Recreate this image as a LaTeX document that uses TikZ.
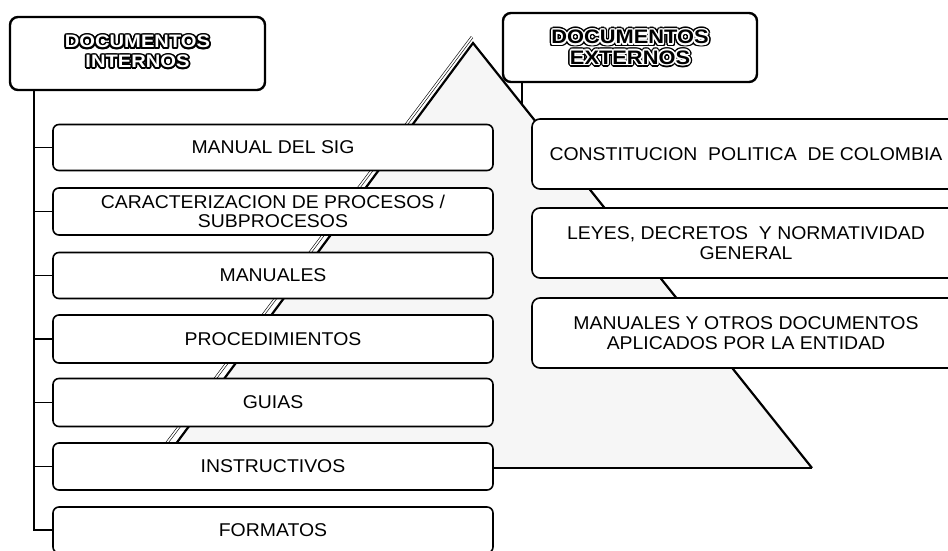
\documentclass[tikz,border=0pt]{standalone}
\usepackage{fontspec}
\setmainfont{Liberation Sans}[FakeStretch=1.05]
\newfontfamily\hdrfont{Liberation Sans}[FakeStretch=1.12]
\usetikzlibrary{calc}
\newcommand\ringtext[3]{%
  \foreach \ang in {0,22.5,...,337.5}{%
    \pgfmathsetlengthmacro\rdx{#2*cos(\ang)}%
    \pgfmathsetlengthmacro\rdy{#2*sin(\ang)}%
    \rlap{\hspace*{\rdx}\raisebox{\rdy}{\textcolor{#1}{#3}}}}}
\newcommand\hdrin[1]{\ringtext{black}{1.7pt}{#1}\textcolor{white}{#1}}
\newcommand\hdrex[1]{\ringtext{black}{3pt}{#1}\ringtext{white}{1.5pt}{#1}#1}
\tikzset{
  leftbox/.style={draw, line width=1.6pt, rounded corners=6pt, fill=white,
    minimum width=440pt, minimum height=46pt, align=center, inner sep=2pt,
    font=\fontsize{18.5}{19.5}\selectfont},
  rightbox/.style={draw, line width=1.6pt, rounded corners=8pt, fill=white,
    minimum width=428pt, minimum height=70pt, align=center, inner sep=2pt,
    font=\fontsize{18.5}{20}\selectfont},
  hdrbox/.style={draw, line width=2.4pt, rounded corners=8pt, fill=white,
    align=center, inner sep=2pt},
  conn/.style={line width=1.4pt},
}
\begin{document}
\begin{tikzpicture}[x=1pt,y=-1pt]
\useasboundingbox (0,0) rectangle (948,550);
% header and first right box positions (needed for connectors drawn beneath)
\path (137.5,53.5) node[hdrbox, minimum width=255pt, minimum height=73pt, draw=none, fill=none] (hi) {};
\path (630,47.5) node[hdrbox, minimum width=254pt, minimum height=69pt, draw=none, fill=none] (he) {};
\path (746,154) node[rightbox, draw=none, fill=none] (r1) {};
% connectors
\coordinate (t0) at ($(hi.south west)+(25pt,0)$);
\coordinate (e0) at ($(he.south west)+(20pt,0)$);
\draw[conn] (e0) |- (r1.west);
% triangle
\coordinate (apex) at (473,43);
\coordinate (tbr) at (812,468);
\coordinate (tbl) at (158,468);
\fill[gray!7] (apex) -- (tbr) -- (tbl) -- cycle;
\draw[line width=1.2pt] (tbl) -- (tbr);
\draw[line width=2.2pt, line join=miter] (tbl) -- (apex) -- (tbr);
\draw[line width=0.6pt, double=white, double distance=1.6pt] ($(apex)+(-1,-6)$) -- ($(tbl)+(-10,0)$);
% left boxes
\node[leftbox] (b1) at (273,147.5) {MANUAL DEL SIG};
\node[leftbox, minimum height=47pt] (b2) at (273,211.5) {CARACTERIZACION DE PROCESOS /\\SUBPROCESOS};
\node[leftbox] (b3) at (273,275.5) {MANUALES};
\node[leftbox, minimum height=48pt] (b4) at (273,339) {PROCEDIMIENTOS};
\node[leftbox, minimum height=48pt] (b5) at (273,402.5) {GUIAS};
\node[leftbox, minimum height=47pt] (b6) at (273,466.5) {INSTRUCTIVOS};
\node[leftbox] (b7) at (273,530) {FORMATOS};
\draw[conn] (t0) |- (b7.west);
\foreach \b in {b1,b2,b3,b4,b5,b6}{\draw[conn] (t0 |- \b.west) -- (\b.west);}
% right boxes
\node[rightbox] (r1) at (746,154) {CONSTITUCION\ \ POLITICA\ \ DE COLOMBIA};
\node[rightbox] (r2) at (746,243) {LEYES, DECRETOS\ \ Y NORMATIVIDAD\\GENERAL};
\node[rightbox] (r3) at (746,333) {MANUALES Y OTROS DOCUMENTOS\\APLICADOS POR LA ENTIDAD};
% headers
\node[hdrbox, minimum width=255pt, minimum height=73pt,
  font=\hdrfont\bfseries\fontsize{18}{18.5}\selectfont] (hi) at (137.5,53.5)
  {\raisebox{4pt}{\begin{tabular}{@{}c@{}}\hdrin{DOCUMENTOS}\\\hdrin{INTERNOS}\end{tabular}}};
\node[hdrbox, minimum width=254pt, minimum height=69pt,
  font=\hdrfont\bfseries\fontsize{19.5}{20.5}\selectfont] (he) at (630,47.5)
  {\hdrex{DOCUMENTOS}\\\hdrex{EXTERNOS}};
\end{tikzpicture}
\end{document}
